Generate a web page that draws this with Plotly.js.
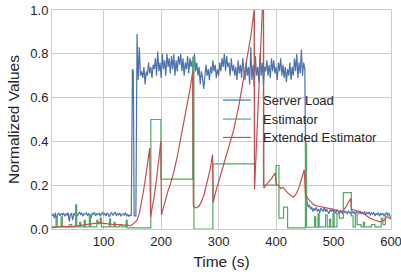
<!DOCTYPE html>
<html>
<head>
<meta charset="utf-8">
<script src="https://cdn.plot.ly/plotly-3.0.1.min.js"></script>
<style>html,body{margin:0;padding:0;background:#fff;}#chart{width:401px;height:276px;}</style>
</head>
<body>
<div id="chart"></div>
<script>
// ---- Server Load (sampled every 2 s) ----
var blueEarlyStart = 10, blueStep = 2;
var blueEarly = [
0.06,0.07,0.05,0.075,0.04,0.068,0.072,0.06,0.07,0.065,
0.073,0.058,0.07,0.062,0.075,0.035,0.068,0.07,0.04,0.072,
0.065,0.075,0.06,0.07,0.078,0.066,0.072,0.058,0.07,0.068,
0.074,0.06,0.07,0.065,0.05,0.072,0.068,0.076,0.06,0.07,
0.066,0.072,0.058,0.07,0.075,0.064,0.07,0.06,0.072,0.068,
0.055,0.07,0.074,0.062,0.068,0.078,0.06,0.07,0.065,0.072,
0.058,0.068,0.07,0.062,0.075,0.06,0.066,0.058,0.064,0.06];
var blueJumpT = [150,151.5,153,156];
var blueJumpV = [0.73,0.72,0.06,0.06];
var bluePlateauStart = 158;
var bluePlateau = [
0.89,0.68,0.83,0.7,0.72,0.69,0.74,0.66,0.72,0.7,
0.76,0.71,0.74,0.69,0.75,0.73,0.78,0.7,0.81,0.72,
0.76,0.69,0.8,0.73,0.77,0.7,0.8,0.74,0.78,0.71,
0.79,0.73,0.8,0.7,0.77,0.72,0.79,0.75,0.8,0.72,
0.78,0.7,0.76,0.73,0.79,0.71,0.78,0.74,0.77,0.69,
0.8,0.72,0.76,0.7,0.74,0.66,0.72,0.69,0.64,0.71,
0.75,0.7,0.73,0.68,0.74,0.71,0.77,0.72,0.75,0.69,
0.73,0.7,0.76,0.72,0.78,0.74,0.8,0.72,0.79,0.74,
0.76,0.7,0.78,0.72,0.75,0.7,0.74,0.68,0.77,0.71,
0.75,0.69,0.78,0.72,0.68,0.76,0.7,0.74,0.66,0.83,
0.68,0.75,0.65,0.79,0.7,0.74,0.67,0.8,0.7,0.76,
0.66,0.74,0.72,0.77,0.7,0.75,0.69,0.78,0.72,0.77,
0.71,0.74,0.68,0.76,0.72,0.78,0.7,0.75,0.69,0.74,
0.67,0.73,0.7,0.76,0.68,0.74,0.7,0.78,0.72,0.8,
0.69,0.76,0.71,0.82,0.7,0.76,0.73];
var blueTailStart = 452;
var blueTail = [
0.15,0.12,0.1,0.11,0.09,0.1,0.08,0.095,0.085,0.1,
0.08,0.09,0.075,0.095,0.085,0.08,0.1,0.078,0.09,0.082,
0.07,0.088,0.08,0.092,0.075,0.085,0.07,0.09,0.08,0.072,
0.086,0.078,0.07,0.084,0.075,0.08,0.068,0.082,0.076,0.07,
0.085,0.072,0.078,0.066,0.08,0.074,0.07,0.082,0.068,0.076,
0.07,0.08,0.065,0.075,0.07,0.078,0.062,0.074,0.068,0.076,
0.06,0.07,0.066,0.075,0.058,0.072,0.065,0.07,0.06,0.068,
0.075,0.062,0.07,0.06,0.05];

// ---- Estimator (step) ----
var estT = [10,17,19,26,28,40,44,51,53,58,60,66,68,75,77,88,90,94,96,110,112,118,120,128,131,139,141,182,199.5,255,257,290,362.5,378,400,405,413,420,451,453,467,469,473,475,486,489,493,495,499,501,506,510,517,531,534,538,541,548,552,554,566,572,583,586,590,597,600];
var estV = [0.01,0.05,0.01,0.055,0.01,0.02,0.01,0.11,0.01,0.03,0.01,0.04,0.01,0.065,0.01,0.04,0.025,0.05,0.01,0.045,0.01,0.03,0.01,0.02,0.01,0.04,0.005,0.5,0.228,0.785,0.0,0.297,1.2,0.2,0.29,0.05,0.1,0.005,0.39,0.008,0.055,0.008,0.07,0.01,0.065,0.01,0.045,0.01,0.07,0.01,0.07,0.05,0.166,0.06,0.01,0.065,0.02,0.01,0.03,0.01,0.02,0.01,0.05,0.02,0.07,0.06,0.06];

// ---- Extended Estimator ----
var extT = [10,14,20,30,40,50,60,70,80,88,94,100,108,118,128,138,146,150,155,158,162,166,169,172,176,180,181.5,185,188,192,196,199.5,200.5,204,208,212,216,222,228,233,240,245,250,255,256,259,262,266,270,275,280,285,289.5,290.5,295,303,310,318,326,335,343,350,356,361.8,362.5,378,378.8,385,392,398.5,400.5,404,408,412,416,420,425,430,435,440,445,449,451,455,460,466,472,480,490,500,510,514,520,525,530,531,540,546,555,563,572,581,588,593,597,600];
var extV = [0.005,0.008,0.01,0.012,0.01,0.013,0.016,0.02,0.022,0.025,0.029,0.026,0.022,0.02,0.02,0.017,0.015,0.02,0.03,0.04,0.07,0.12,0.17,0.22,0.29,0.37,0.055,0.1,0.15,0.23,0.32,0.40,0.065,0.1,0.14,0.175,0.205,0.26,0.33,0.4,0.49,0.56,0.635,0.72,0.105,0.098,0.097,0.105,0.125,0.16,0.21,0.27,0.34,0.12,0.17,0.24,0.3,0.37,0.45,0.56,0.68,0.79,0.88,1.0,0.18,1.12,0.187,0.21,0.23,0.255,0.2,0.2,0.185,0.19,0.175,0.165,0.155,0.145,0.16,0.19,0.235,0.27,0.16,0.14,0.125,0.11,0.105,0.1,0.095,0.09,0.08,0.075,0.095,0.115,0.14,0.09,0.085,0.08,0.065,0.05,0.04,0.033,0.04,0.056,0.05,0.045];

var xTicks = [100,200,300,400,500,600];
var yTicks = [0,0.2,0.4,0.6,0.8,1.0];
var seriesNames = ['Server Load', 'Estimator', 'Extended Estimator'];
var seriesColors = ['#4C72B0', '#55A868', '#C44E52'];

// assemble server load series
var loadT = [], loadV = [];
function addSeg(start, vals){ for (var i=0;i<vals.length;i++){ loadT.push(start + i*blueStep); loadV.push(vals[i]); } }
addSeg(blueEarlyStart, blueEarly);
for (var j=0;j<blueJumpT.length;j++){ loadT.push(blueJumpT[j]); loadV.push(blueJumpV[j]); }
addSeg(bluePlateauStart, bluePlateau);
addSeg(blueTailStart, blueTail);

var FONT = 'Liberation Sans, Arial, sans-serif';
var TXT = '#262626';
var traces = [
  {x: loadT, y: loadV, mode: 'lines', name: seriesNames[0], line: {color: seriesColors[0], width: 1.2}},
  {x: estT, y: estV, mode: 'lines', name: seriesNames[1], line: {color: seriesColors[1], width: 1.2, shape: 'hv'}},
  {x: extT, y: extV, mode: 'lines', name: seriesNames[2], line: {color: seriesColors[2], width: 1.2}}
];

// hand-built legend (frameless, matplotlib style)
var legX0 = 0.5044, legX1 = 0.587, legTextX = 0.617;
var legY = [0.589, 0.502, 0.418];
var shapes = [], annotations = [];
for (var k=0;k<3;k++){
  shapes.push({type:'line', xref:'paper', yref:'paper', x0:legX0, x1:legX1, y0:legY[k], y1:legY[k], layer:'above', line:{color:seriesColors[k], width:1.2}});
  annotations.push({xref:'paper', yref:'paper', x:legTextX, y:legY[k], xanchor:'left', yanchor:'middle', text:seriesNames[k], showarrow:false, font:{family:FONT, size:13, color:TXT}});
}

var layout = {
  width: 401, height: 276,
  margin: {l: 52, r: 10, t: 10, b: 47, pad: 0},
  paper_bgcolor: '#ffffff', plot_bgcolor: '#ffffff',
  font: {family: FONT, color: TXT, size: 13},
  showlegend: false,
  shapes: shapes, annotations: annotations,
  xaxis: {
    range: [10, 600], tickvals: xTicks, ticktext: xTicks.map(String), ticklabeloverflow: 'allow',
    showgrid: true, gridcolor: '#cccccc', gridwidth: 1,
    showline: true, linecolor: '#cccccc', linewidth: 1, mirror: true,
    zeroline: false, ticks: '', tickfont: {size: 13, color: TXT, family: FONT},
    title: {text: 'Time (s)', font: {size: 15.5, color: TXT, family: FONT}, standoff: 8}
  },
  yaxis: {
    range: [0, 1], tickvals: yTicks, tickformat: '.1f',
    showgrid: true, gridcolor: '#cccccc', gridwidth: 1,
    showline: true, linecolor: '#cccccc', linewidth: 1, mirror: true,
    zeroline: false, ticks: '', tickfont: {size: 13, color: TXT, family: FONT},
    title: {text: 'Normalized Values', font: {size: 15.5, color: TXT, family: FONT}, standoff: 6}
  }
};
Plotly.newPlot('chart', traces, layout, {displayModeBar: false, staticPlot: true});
</script>
</body>
</html>
